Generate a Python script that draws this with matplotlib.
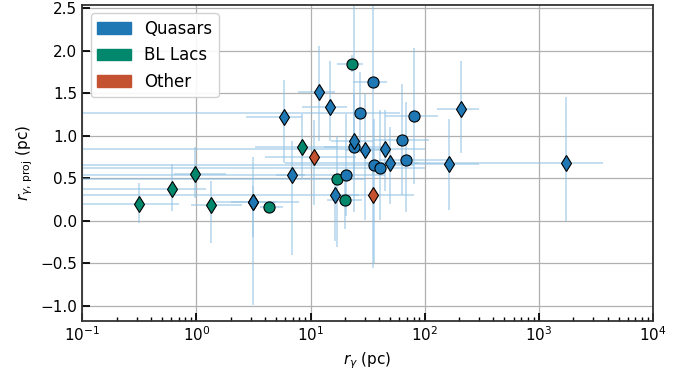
import matplotlib
matplotlib.use("Agg")
import matplotlib.pyplot as plt
import matplotlib.patches as mpatches
import numpy as np

# ---------------- data ----------------
classes = ["Quasars", "BL Lacs", "Other"]
class_colors = ["#1f77b4", "#00876c", "#c4512f"]

# Quasars, diamond markers
q_d_x    = [11.9, 14.9, 5.9, 30.2, 45.2, 50.0, 164, 209, 1740, 6.93, 16.5, 24.2, 3.16]
q_d_y    = [1.51, 1.34, 1.22, 0.835, 0.847, 0.68, 0.671, 1.32, 0.68, 0.541, 0.306, 0.94, 0.224]
q_d_xlo  = [4.2, 6.4, 3.2, 10, 45.2, 20, 104, 81, 1734, 1.9, 16.5, 9.2, 1.66]
q_d_xhi  = [4.6, 6.1, 2.6, 10, 55, 40, 136, 88, 1920, 2.0, 10, 10.8, 4.8]
q_d_ylo  = [0.57, 0.40, 0.54, 0.83, 0.50, 0.48, 0.55, 0.52, 0.68, 0.95, 0.55, 0.44, 1.22]
q_d_yhi  = [0.55, 0.54, 0.43, 0.66, 0.45, 0.42, 0.53, 0.56, 0.78, 0.40, 0.24, 0.56, 0.53]

# Quasars, circle markers
q_c_x    = [35.5, 27.3, 81, 63.6, 24.2, 36.2, 40.9, 69, 20.6]
q_c_y    = [1.635, 1.27, 1.235, 0.953, 0.871, 0.659, 0.624, 0.718, 0.541]
q_c_xlo  = [11.8, 27.3, 36, 28.6, 11.2, 36.2, 40.9, 29, 20.6]
q_c_xhi  = [11.5, 33, 49, 46, 20.8, 44, 59, 91, 24.4]
q_c_ylo  = [1.1, 0.47, 0.8, 0.65, 0.77, 1.16, 0.62, 0.62, 0.49]
q_c_yhi  = [0.95, 0.48, 0.8, 0.65, 1.7, 0.54, 0.68, 0.68, 0.71]

# BL Lacs, diamond markers
b_d_x    = [0.317, 0.616, 0.98, 1.33, 3.16, 8.48]
b_d_y    = [0.2, 0.376, 0.553, 0.188, 0.224, 0.871]
b_d_xlo  = [0.317, 0.616, 0.34, 0.43, 1.16, 5.2]
b_d_xhi  = [0.39, 0.6, 0.85, 1.2, 1.84, 8.5]
b_d_ylo  = [0.23, 0.26, 0.29, 0.45, 0.42, 0.37]
b_d_yhi  = [0.24, 0.29, 0.31, 0.28, 0.18, 0.39]

# BL Lacs, circle markers
b_c_x    = [4.36, 23.2, 17.2, 20.2]
b_c_y    = [0.165, 1.847, 0.494, 0.247]
b_c_xlo  = [0.76, 6.0, 17.2, 6.2]
b_c_xhi  = [1.34, 5.8, 12.8, 7.8]
b_c_ylo  = [0.06, 0.1, 0.8, 0.35]
b_c_yhi  = [0.06, 0.1, 0.5, 0.35]

# Other, diamond markers
o_d_x    = [10.8, 35.5]
o_d_y    = [0.753, 0.306]
o_d_xlo  = [6.8, 20.5]
o_d_xhi  = [14.2, 44.5]
o_d_ylo  = [0.57, 0.86]
o_d_yhi  = [0.43, 0.55]

groups = [
    (q_d_x, q_d_y, q_d_xlo, q_d_xhi, q_d_ylo, q_d_yhi, "d", 0),
    (q_c_x, q_c_y, q_c_xlo, q_c_xhi, q_c_ylo, q_c_yhi, "o", 0),
    (b_d_x, b_d_y, b_d_xlo, b_d_xhi, b_d_ylo, b_d_yhi, "d", 1),
    (b_c_x, b_c_y, b_c_xlo, b_c_xhi, b_c_ylo, b_c_yhi, "o", 1),
    (o_d_x, o_d_y, o_d_xlo, o_d_xhi, o_d_ylo, o_d_yhi, "d", 2),
]

# ---------------- plot ----------------
fig = plt.figure(figsize=(6.91, 3.74), dpi=100)
ax = fig.add_axes([0.119, 0.142, 0.826, 0.845])
ax.set_xscale("log")

for x, y, xlo, xhi, ylo, yhi, m, ci in groups:
    ax.errorbar(x, y, xerr=[xlo, xhi], yerr=[ylo, yhi], fmt="none",
                ecolor="#8fc0e3", alpha=0.6, elinewidth=1.2, capsize=0, zorder=2)

# markers: BL Lacs first so blue diamond overlaps at x~3
order = [2, 3, 4, 1, 0]
for gi in order:
    x, y, xlo, xhi, ylo, yhi, m, ci = groups[gi]
    ms = 8.5 if m == "d" else 8
    ax.plot(x, y, linestyle="none", marker=m, markersize=ms,
            markerfacecolor=class_colors[ci], markeredgecolor="black",
            markeredgewidth=0.8, zorder=3)

ax.set_xlim(0.1, 1e4)
ax.set_ylim(-1.18, 2.54)
ax.set_yticks([-1.0, -0.5, 0.0, 0.5, 1.0, 1.5, 2.0, 2.5])
ax.grid(True, which="major", color="#b0b0b0", linewidth=0.9, zorder=1)

ax.tick_params(axis="both", which="major", direction="in", length=6, width=1.3,
               labelsize=11)
ax.tick_params(axis="both", which="minor", direction="in", length=3, width=1.0)
ax.tick_params(axis="y", which="minor", left=False)
for s in ax.spines.values():
    s.set_linewidth(1.3)
    s.set_color("#333333")

ax.set_xlabel(r"$r_\gamma$ (pc)", fontsize=11)
ax.set_ylabel(r"$r_{\gamma,\,\mathrm{proj}}$ (pc)", fontsize=11)

handles = [mpatches.Patch(color=c, label=l) for c, l in zip(class_colors, classes)]
ax.legend(handles=handles, loc="upper left", fontsize=12, framealpha=0.9)

fig.savefig("out.png", dpi=100)
